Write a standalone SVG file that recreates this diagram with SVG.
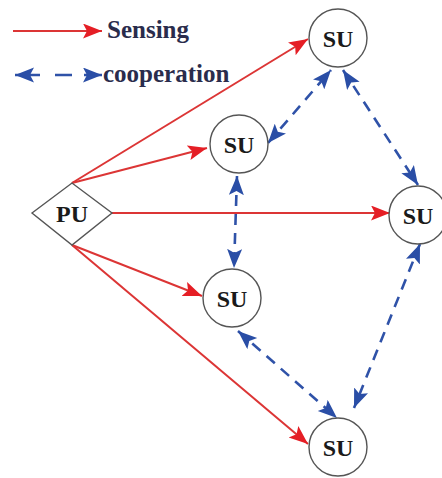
<svg xmlns="http://www.w3.org/2000/svg" width="442" height="478" viewBox="0 0 442 478">
<style>
.node{fill:#fff;stroke:#555;stroke-width:1.4}
.lbl{font-family:"Liberation Serif",serif;font-weight:bold;font-size:24px;fill:#1a1a1a;text-anchor:middle}
.leg{font-family:"Liberation Serif",serif;font-weight:bold;font-size:25px;fill:#2a2c4c}
.sense{stroke:#dc3535;stroke-width:2;fill:none;marker-end:url(#ra)}
.coop{stroke:#2f52a8;stroke-width:2.6;fill:none;stroke-dasharray:11 8;marker-start:url(#ba);marker-end:url(#ba)}
</style>
<defs>
<marker id="ra" markerUnits="userSpaceOnUse" markerWidth="22" markerHeight="16" refX="19" refY="7.5" orient="auto">
<path d="M0,0 L19,7.5 L0,15 L4,7.5 z" fill="#e51e25"/>
</marker>
<marker id="ba" markerUnits="userSpaceOnUse" markerWidth="22" markerHeight="16" refX="19" refY="7.5" orient="auto-start-reverse">
<path d="M0,0 L19,7.5 L0,15 L4,7.5 z" fill="#2a4ea6"/>
</marker>
</defs>
<g id="legend">
<line x1="13" y1="31" x2="102" y2="31" class="sense"/>
<text x="107" y="38" class="leg">Sensing</text>
<line x1="15" y1="75" x2="102" y2="75" class="coop" style="stroke-dasharray:25 15 17 12 40"/>
<text x="103" y="82" class="leg">cooperation</text>
</g>
<g id="connectors">
<line x1="72" y1="183" x2="308" y2="39" class="sense"/>
<line x1="72" y1="183" x2="207" y2="148" class="sense"/>
<line x1="112" y1="213" x2="390" y2="213" class="sense"/>
<line x1="72" y1="245" x2="202" y2="296" class="sense"/>
<line x1="72" y1="245" x2="308" y2="444" class="sense"/>
<line x1="268" y1="143" x2="331" y2="70" class="coop"/>
<line x1="343" y1="70" x2="418" y2="185" class="coop"/>
<line x1="237" y1="176" x2="234" y2="268" class="coop"/>
<line x1="238" y1="331" x2="337" y2="418" class="coop"/>
<line x1="420" y1="244" x2="354" y2="408" class="coop"/>
</g>
<g id="pu">
<polygon points="32,213 72,183 112,213 72,245" class="node"/>
<text x="72" y="222" class="lbl">PU</text>
</g>
<g id="su1">
<circle cx="338" cy="38" r="29" class="node"/>
<text x="338" y="47" class="lbl">SU</text>
</g>
<g id="su2">
<circle cx="239" cy="144" r="29" class="node"/>
<text x="239" y="153" class="lbl">SU</text>
</g>
<g id="su3">
<circle cx="418" cy="215" r="29" class="node"/>
<text x="418" y="224" class="lbl">SU</text>
</g>
<g id="su4">
<circle cx="232" cy="298" r="29" class="node"/>
<text x="232" y="307" class="lbl">SU</text>
</g>
<g id="su5">
<circle cx="338" cy="447" r="29" class="node"/>
<text x="338" y="456" class="lbl">SU</text>
</g>
</svg>
